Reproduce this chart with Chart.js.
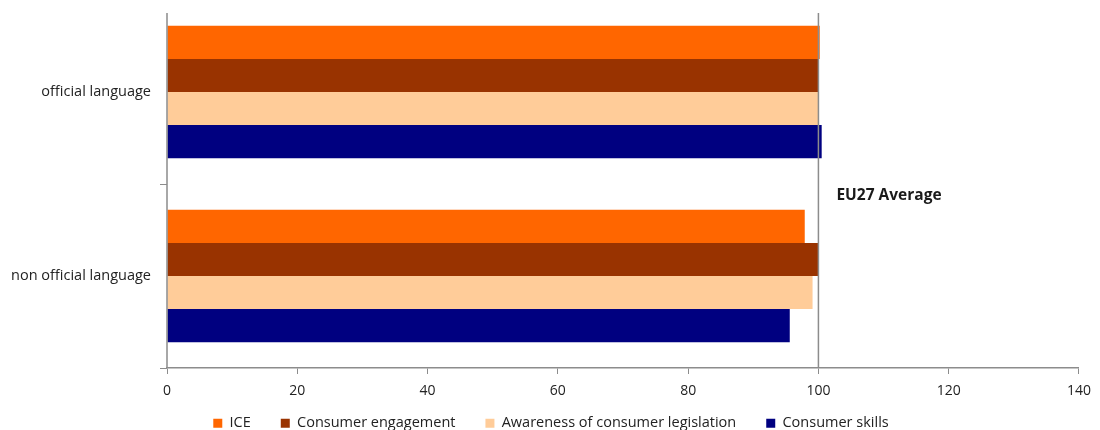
<!DOCTYPE html>
<html>
<head>
<meta charset="utf-8">
<script src="https://cdn.jsdelivr.net/npm/chart.js@4.4.0/dist/chart.umd.min.js"></script>
<style>
  html, body { margin: 0; padding: 0; background: #fff; }
  #wrap { width: 1100px; height: 430px; }
</style>
</head>
<body>
<div id="wrap"><canvas id="myChart" width="1100" height="430"></canvas></div>
<script>
// categories and series
const categories = ['official language', 'non official language'];
const seriesNames = ['ICE', 'Consumer engagement', 'Awareness of consumer legislation', 'Consumer skills'];
const iceValues = [100.2, 97.9];
const engagementValues = [100.0, 100.0];
const awarenessValues = [100.1, 99.1];
const skillsValues = [100.5, 95.6];
const xTicks = [0, 20, 40, 60, 80, 100, 120, 140];
const averageValue = 100;
const averageLabel = 'EU27 Average';

const colors = ['#FF6600', '#993300', '#FFCC99', '#000080'];
const FONT = '"Open Sans", sans-serif';
const AXIS_GREY = '#8c8c8c';
const AXIS_TOP = 13; // the value axis line starts a bit below the canvas top

// vertical line at the EU27 average, the left axis line, and legend placement
const averageLine = {
  id: 'averageLine',
  beforeInit(chart) {
    const legend = chart.legend;
    const origFit = legend.fit;
    legend.fit = function () {
      origFit.call(this);
      this.height = 32;
    };
  },
  afterLayout(chart) {
    // let the legend box grow upward so its row sits a little higher, and nudge it right
    chart.legend.top -= 12;
    chart.legend.left += 11;
    chart.legend.right += 11;
  },
  afterDatasetsDraw(chart) {
    const ctx = chart.ctx;
    const x = chart.scales.x.getPixelForValue(averageValue);
    const area = chart.chartArea;
    ctx.save();
    ctx.strokeStyle = AXIS_GREY;
    ctx.lineWidth = 1.5;
    ctx.beginPath();
    ctx.moveTo(area.left, AXIS_TOP);
    ctx.lineTo(area.left, area.bottom);
    ctx.moveTo(x, AXIS_TOP);
    ctx.lineTo(x, area.bottom);
    ctx.stroke();
    ctx.fillStyle = '#1a1a1a';
    ctx.font = 'bold 15.5px ' + FONT;
    ctx.textBaseline = 'middle';
    ctx.fillText(averageLabel, x + 18, 196);
    ctx.restore();
  }
};

const data = {
  labels: categories,
  datasets: [
    { label: seriesNames[0], data: iceValues, backgroundColor: colors[0] },
    { label: seriesNames[1], data: engagementValues, backgroundColor: colors[1] },
    { label: seriesNames[2], data: awarenessValues, backgroundColor: colors[2] },
    { label: seriesNames[3], data: skillsValues, backgroundColor: colors[3] }
  ]
};
data.datasets.forEach((set) => {
  set.barPercentage = 1;
  set.categoryPercentage = 0.72;
  set.borderWidth = 0;
});

const config = {
  type: 'bar',
  data: data,
  options: {
    indexAxis: 'y',
    responsive: false,
    animation: false,
    layout: { padding: { top: 0, right: 20, left: 0, bottom: 0 } },
    scales: {
      x: {
        min: 0,
        max: 140,
        afterBuildTicks: (scale) => { scale.ticks = xTicks.map((v) => ({ value: v })); },
        afterFit: (scale) => { scale.height = 30; },
        grid: { drawOnChartArea: false, drawTicks: true, tickLength: 6, color: AXIS_GREY },
        border: { color: AXIS_GREY, width: 1.5 },
        ticks: { color: '#222', font: { family: FONT, size: 14 }, padding: 9 }
      },
      y: {
        afterFit: (scale) => {
          scale.width = 167;
          scale.paddingTop = 0;
          scale.paddingBottom = 0;
        },
        grid: {
          drawOnChartArea: false,
          drawTicks: true,
          tickLength: 7,
          color: AXIS_GREY,
          tickColor: (c) => (c.index === 0 ? 'rgba(0,0,0,0)' : AXIS_GREY),
          offset: true
        },
        border: { display: false },
        ticks: { color: '#222', font: { family: FONT, size: 14.5 }, padding: 9 }
      }
    },
    plugins: {
      legend: {
        position: 'bottom',
        labels: {
          boxWidth: 9,
          boxHeight: 9,
          padding: 30,
          color: '#222',
          font: { family: FONT, size: 14.5 }
        }
      },
      tooltip: { enabled: false }
    }
  },
  plugins: [averageLine]
};

new Chart(document.querySelector('#myChart'), config);
</script>
</body>
</html>
